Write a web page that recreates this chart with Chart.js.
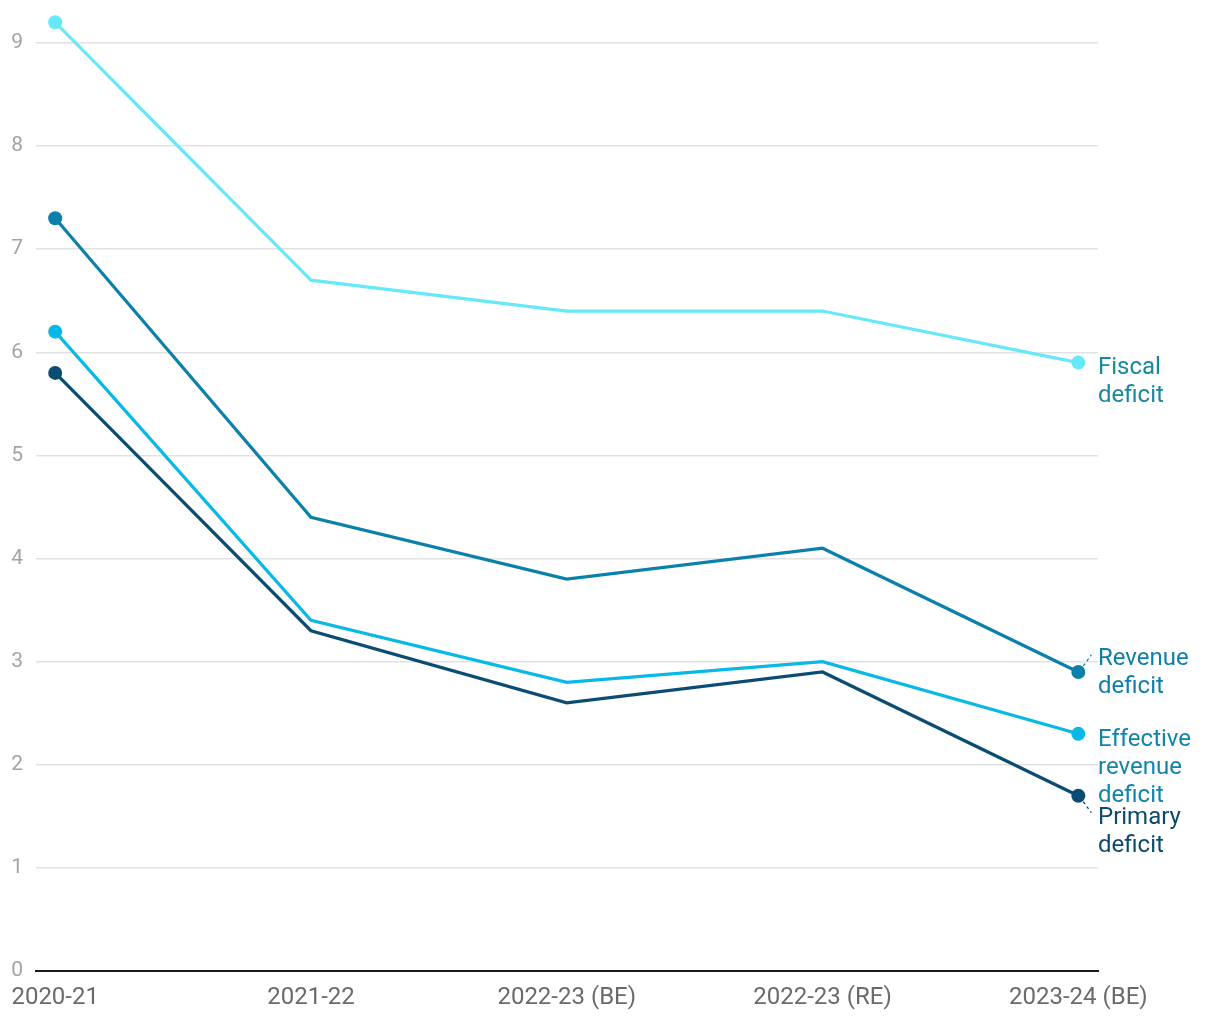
<!DOCTYPE html>
<html>
<head>
<meta charset="utf-8">
<script src="https://cdn.jsdelivr.net/npm/chart.js@4"></script>
<style>
  html, body { margin: 0; padding: 0; background: #fff; }
  #wrap { width: 1220px; height: 1020px; }
</style>
</head>
<body>
<div id="wrap"><canvas id="chart"></canvas></div>
<script>
const years = ['2020-21', '2021-22', '2022-23 (BE)', '2022-23 (RE)', '2023-24 (BE)'];
const fiscalDeficit = [9.2, 6.7, 6.4, 6.4, 5.9];
const revenueDeficit = [7.3, 4.4, 3.8, 4.1, 2.9];
const effectiveRevenueDeficit = [6.2, 3.4, 2.8, 3.0, 2.3];
const primaryDeficit = [5.8, 3.3, 2.6, 2.9, 1.7];
const yTicks = [0, 1, 2, 3, 4, 5, 6, 7, 8, 9];

// series style + end label
const series = [
    { name: ['Fiscal', 'deficit'], data: fiscalDeficit, color: '#67e8f9', text: '#17899a', dy: 5, leader: 0 },
    { name: ['Revenue', 'deficit'], data: revenueDeficit, color: '#0a80ab', text: '#0e7fa8', dy: -13, leader: -1 },
    { name: ['Effective', 'revenue', 'deficit'], data: effectiveRevenueDeficit, color: '#08b8e6', text: '#0e85ad', dy: 6, leader: 0 },
    { name: ['Primary', 'deficit'], data: primaryDeficit, color: '#0b4d72', text: '#0b4b6d', dy: 22, leader: 1 }
];

const endLabels = {
    id: 'endLabels',
    afterDatasetsDraw(chart) {
        const ctx = chart.ctx;
        ctx.save();
        ctx.font = '24px Roboto';
        ctx.textBaseline = 'middle';
        ctx.textAlign = 'left';
        series.forEach((s, i) => {
            const meta = chart.getDatasetMeta(i);
            const pt = meta.data[meta.data.length - 1];
            const x = chart.chartArea.right;
            const y0 = pt.y + s.dy;
            if (s.leader) {
                ctx.strokeStyle = s.text;
                ctx.lineWidth = 1.3;
                ctx.setLineDash([3, 3]);
                ctx.beginPath();
                ctx.moveTo(pt.x + 5, pt.y + s.leader * 6);
                ctx.lineTo(pt.x + 13, pt.y + s.leader * 17);
                ctx.stroke();
                ctx.setLineDash([]);
            }
            ctx.fillStyle = s.text;
            s.name.forEach((line, j) => {
                ctx.fillText(line, x, y0 + j * 28);
            });
        });
        ctx.restore();
    }
};

new Chart(document.getElementById('chart'), {
    type: 'line',
    data: {
        datasets: series.map(s => ({
            label: s.name.join(' '),
            data: s.data.map((v, i) => ({ x: i, y: v })),
            borderColor: s.color,
            backgroundColor: s.color,
            borderWidth: 3.2,
            pointRadius: s.data.map((v, i) => (i === 0 || i === s.data.length - 1) ? 7 : 0),
            pointHoverRadius: 7,
            pointBorderWidth: 0,
            tension: 0,
            clip: false
        }))
    },
    options: {
        responsive: true,
        maintainAspectRatio: false,
        animation: false,
        layout: { padding: { top: 12, right: 122, bottom: 6, left: 0 } },
        plugins: {
            legend: { display: false },
            tooltip: { enabled: false }
        },
        scales: {
            x: {
                type: 'linear',
                min: -0.075,
                max: 4.077,
                afterBuildTicks: scale => { scale.ticks = years.map((y, i) => ({ value: i })); },
                afterFit: scale => {
                    scale.height = 43;
                    scale.paddingLeft = 0;
                    scale.paddingRight = 0;
                },
                grid: { display: false, drawTicks: false },
                border: { display: true, color: '#1a1a1a', width: 2 },
                ticks: {
                    padding: 13,
                    autoSkip: false,
                    maxRotation: 0,
                    color: '#6a6a6a',
                    font: { family: 'Roboto', size: 24 },
                    callback: v => years[v]
                }
            },
            y: {
                min: 0,
                max: 9.3,
                afterBuildTicks: scale => { scale.ticks = yTicks.map(v => ({ value: v })); },
                afterFit: scale => {
                    scale.width = 36;
                    scale.paddingTop = 0;
                    scale.paddingBottom = 0;
                },
                grid: {
                    color: c => c.tick && c.tick.value === 0 ? 'rgba(0,0,0,0)' : '#e2e2e2',
                    lineWidth: 1.5,
                    drawTicks: false
                },
                border: { display: false },
                ticks: {
                    padding: 13,
                    color: '#a3a3a3',
                    font: { family: 'Roboto', size: 21 }
                }
            }
        }
    },
    plugins: [endLabels]
});
</script>
</body>
</html>
